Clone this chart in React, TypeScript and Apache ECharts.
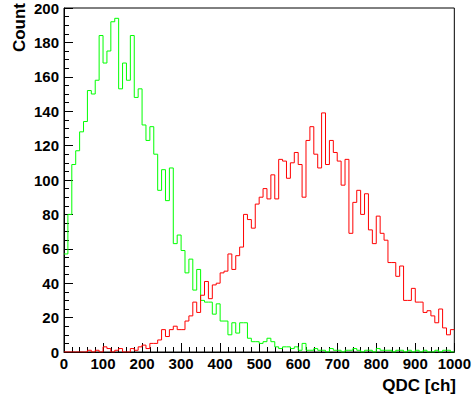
import React, { useEffect, useRef } from "react";
import * as echarts from "echarts";

// Histogram: 100 bins of width 10 from 0 to 1000
const X_MIN = 0;
const X_MAX = 1000;
const BIN_WIDTH = 10;

const greenCounts = [
  57, 80, 109, 117, 128, 134, 152, 150, 158, 184,
  168, 175, 192, 194, 153, 168, 158, 184, 148, 153,
  132, 123, 131, 115, 94, 106, 88, 107, 63, 68,
  59, 46, 54, 36, 48, 30, 29, 29, 22, 28,
  18, 18, 10, 17, 11, 17, 17, 8, 6, 6,
  5, 6, 8, 6, 3, 2, 3, 3, 2, 3,
  1, 5, 1, 1, 2, 1, 1, 0, 2, 1,
  1, 0, 1, 1, 2, 1, 0, 1, 1, 0,
  2, 1, 1, 1, 0, 1, 1, 0, 1, 0,
  1, 0, 1, 0, 0, 1, 0, 1, 1, 0,
];

const redCounts = [
  0, 0, 0, 0, 0, 0, 1, 0, 1, 0,
  3, 2, 0, 1, 2, 0, 0, 2, 1, 3,
  4, 2, 5, 5, 7, 13, 9, 13, 15, 13,
  13, 18, 21, 29, 23, 33, 41, 31, 39, 40,
  46, 47, 57, 48, 56, 61, 80, 77, 72, 86,
  90, 95, 89, 103, 89, 112, 111, 101, 110, 116,
  109, 90, 123, 131, 115, 107, 139, 109, 123, 116,
  111, 97, 112, 69, 87, 94, 80, 92, 71, 63,
  79, 69, 65, 52, 52, 44, 50, 30, 30, 37,
  29, 29, 23, 24, 21, 17, 25, 14, 10, 13,
];

const xTitle = "QDC [ch]";
const yTitle = "Count";

function toSteps(counts: number[]): [number, number][] {
  const pts: [number, number][] = counts.map((c, i) => [X_MIN + i * BIN_WIDTH, c]);
  pts.push([X_MIN + counts.length * BIN_WIDTH, counts[counts.length - 1]]);
  return pts;
}

const FONT = "'Liberation Sans', Arial, Helvetica, sans-serif";

export default function App() {
  const ref = useRef<HTMLDivElement>(null);
  useEffect(() => {
    if (!ref.current) return;
    const chart = echarts.init(ref.current, undefined, { renderer: "svg" });
    const labelStyle = {
      color: "#000",
      fontWeight: "bold" as const,
      fontSize: 15,
      fontFamily: FONT,
      formatter: (v: number) => String(v),
    };
    chart.setOption({
      animation: false,
      backgroundColor: "#fff",
      grid: {
        left: 64,
        right: 17,
        top: 8,
        bottom: 46,
        show: true,
        borderColor: "#000",
        borderWidth: 1,
        backgroundColor: "transparent",
      },
      xAxis: {
        type: "value",
        min: X_MIN,
        max: X_MAX,
        interval: 100,
        axisLine: { show: true, lineStyle: { color: "#000", width: 1 } },
        axisTick: { show: true, inside: true, length: 9, lineStyle: { color: "#000" } },
        minorTick: { show: true, splitNumber: 5, length: 5, lineStyle: { color: "#000" } },
        splitLine: { show: false },
        axisLabel: { ...labelStyle, margin: 4 },
      },
      yAxis: {
        type: "value",
        min: 0,
        max: 200,
        interval: 20,
        axisLine: { show: true, lineStyle: { color: "#000", width: 1 } },
        axisTick: { show: true, inside: true, length: 9, lineStyle: { color: "#000" } },
        minorTick: { show: true, splitNumber: 4, length: 5, lineStyle: { color: "#000" } },
        splitLine: { show: false },
        axisLabel: { ...labelStyle, margin: 5 },
      },
      series: [
        {
          type: "line",
          step: "end",
          symbol: "none",
          data: toSteps(greenCounts),
          lineStyle: { color: "#00ff00", width: 1 },
          itemStyle: { color: "#00ff00" },
        },
        {
          type: "line",
          step: "end",
          symbol: "none",
          data: toSteps(redCounts),
          lineStyle: { color: "#ff0000", width: 1 },
          itemStyle: { color: "#ff0000" },
        },
      ],
      graphic: [
        {
          type: "text",
          x: 456,
          y: 385,
          style: {
            text: xTitle,
            fill: "#000",
            font: `bold 17px ${FONT}`,
            textAlign: "right",
            textVerticalAlign: "middle",
          },
        },
        {
          type: "text",
          x: 19,
          y: 3,
          rotation: Math.PI / 2,
          style: {
            text: yTitle,
            fill: "#000",
            font: `bold 17px ${FONT}`,
            textAlign: "right",
            textVerticalAlign: "middle",
          },
        },
      ],
    });
    return () => chart.dispose();
  }, []);
  return (
    <div
      ref={ref}
      style={{ position: "absolute", left: 0, top: 0, width: 474, height: 398 }}
    />
  );
}
